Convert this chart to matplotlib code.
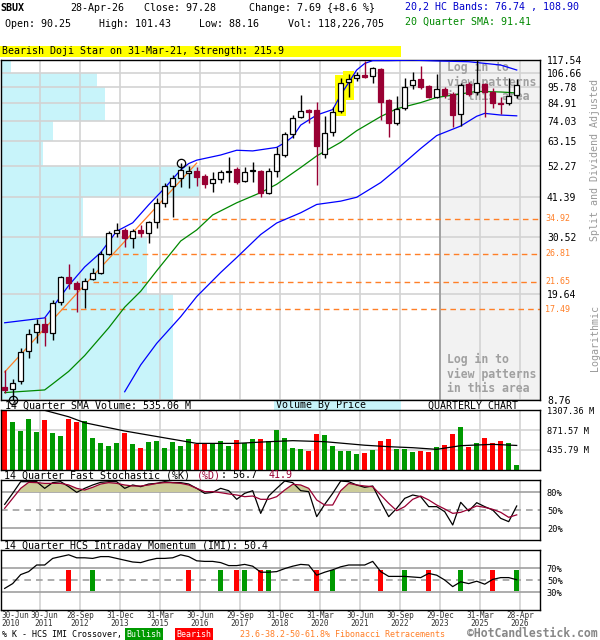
import matplotlib
matplotlib.use('Agg')
import matplotlib.pyplot as plt
import numpy as np
from matplotlib.ticker import NullLocator
from matplotlib.patches import Rectangle
import matplotlib.transforms as mtransforms

plt.rcParams['font.family'] = ['DejaVu Sans Mono']

# ---- quarterly OHLC (split and dividend adjusted), Jun-2010 .. Apr-2026 ----
opens = [9.68, 9.53, 10.13, 12.74, 14.73, 15.66, 14.62, 18.52, 22.42, 21.42,
         20.46, 22.08, 23.11, 26.71, 31.36, 32.09, 30.19, 32.09, 31.36, 34.11,
         39.44, 44.91, 47.73, 49.59, 50.36, 48.47, 45.95, 47.37, 49.98, 51.13,
         46.66, 50.36, 50.36, 42.57, 50.36, 56.90, 66.80, 76.05, 80.23, 80.23,
         57.34, 67.83, 79.62, 99.36, 102.46, 104.82, 104.03, 109.73, 86.60, 72.65,
         81.46, 97.11, 101.67, 96.37, 88.60, 94.18, 90.66, 77.82, 97.86, 92.05,
         97.86, 92.05, 84.65, 84.65, 90.25]
highs = [11.02, 10.29, 13.04, 15.07, 16.27, 16.51, 18.81, 22.59, 24.76, 21.74,
         22.25, 24.01, 27.34, 31.85, 33.85, 32.58, 32.34, 33.34, 34.37, 40.97,
         45.95, 48.84, 53.50, 52.32, 51.92, 49.21, 49.98, 50.74, 56.04, 51.92,
         51.92, 53.94, 50.74, 51.53, 60.48, 67.83, 77.23, 89.97, 80.84, 85.29,
         76.64, 82.10, 102.46, 105.62, 107.25, 116.65, 111.40, 110.59, 87.26, 89.29,
         102.46, 107.25, 112.30, 97.11, 105.62, 95.63, 92.05, 98.60, 99.36, 117.50,
         98.60, 94.91, 88.60, 102.46, 101.43]
lows = [9.25, 8.76, 9.91, 12.08, 13.55, 13.24, 13.86, 18.10, 20.46, 17.16,
        17.69, 21.91, 22.94, 26.51, 30.42, 28.19, 27.98, 30.42, 29.06, 32.58,
        38.26, 35.44, 44.57, 44.23, 44.91, 44.23, 42.90, 45.95, 46.30, 45.60,
        46.30, 46.30, 41.29, 42.25, 48.10, 56.04, 64.79, 75.48, 72.65, 45.25,
        55.63, 65.78, 78.41, 88.60, 100.12, 102.46, 98.60, 74.33, 65.29, 71.55,
        80.23, 94.18, 94.18, 87.93, 87.93, 87.93, 70.47, 71.01, 89.29, 89.97,
        76.05, 81.46, 77.82, 83.36, 88.16]
closes = [9.46, 9.98, 12.65, 14.51, 15.66, 14.73, 18.38, 22.42, 21.42, 20.46,
          21.74, 23.11, 26.71, 31.36, 32.09, 30.19, 31.85, 31.36, 34.11, 39.44,
          44.91, 47.73, 50.74, 50.36, 48.10, 45.60, 47.37, 49.98, 50.36, 46.30,
          49.98, 50.74, 42.57, 50.36, 57.34, 66.80, 75.48, 79.62, 79.01, 60.84,
          67.31, 79.01, 98.60, 101.67, 104.82, 103.25, 110.59, 85.29, 72.65, 80.84,
          95.63, 100.89, 95.63, 88.60, 94.18, 89.97, 77.23, 97.11, 90.66, 98.60,
          92.05, 84.65, 84.30, 89.59, 97.28]
volumes = [1307, 1053, 857, 1111, 835, 1089, 813, 740, 1111, 1053,
           1075, 704, 595, 530, 595, 813, 566, 486, 617, 639,
           486, 617, 530, 682, 573, 573, 573, 639, 530, 661,
           588, 682, 682, 639, 879, 704, 486, 464, 421, 784,
           769, 530, 421, 421, 355, 377, 442, 639, 682, 464,
           464, 399, 421, 399, 501, 551, 784, 937, 508, 595,
           704, 595, 639, 595, 118.2]

# overlays (quarter index, value)
sma_idx = [0, 5, 6, 8, 10, 13, 15, 17, 19, 22, 24, 26, 29, 32, 34, 37, 39, 42, 44, 47, 49, 52, 54, 57, 59, 62, 64]
sma_val = [9.27, 9.46, 9.91, 10.9, 12.3, 15.2, 17.8, 20.1, 23.5, 29.5, 32.1, 36.0, 39.5, 42.7, 45.5, 51.7, 56.5,
           62.7, 68.5, 76.3, 81.0, 84.9, 88.3, 90.7, 92.5, 92.05, 91.41]
upper_idx = [0, 5, 6, 8, 10, 12, 14, 16, 18, 20, 22, 23, 24, 27, 29, 31, 34, 35, 36, 37, 39, 41, 42, 43, 44, 45,
             46, 48, 51, 54, 58, 62, 64]
upper_val = [15.8, 16.4, 17.8, 21.0, 24.2, 27.0, 31.8, 33.9, 38.9, 44.2, 50.8, 53.3, 54.7, 56.9, 59.0, 58.7, 60.3,
             62.5, 65.4, 71.5, 77.2, 80.5, 90.0, 99.0, 108.9, 114.5, 117.0, 117.0, 117.4, 116.7, 116.0, 113.1, 108.9]
lower_idx = [15, 17, 19, 22, 24, 27, 29, 32, 34, 37, 39, 42, 44, 47, 49, 52, 54, 57, 59, 60, 62, 64]
lower_val = [9.33, 11.45, 13.5, 16.55, 19.3, 23.2, 26.0, 31.0, 33.85, 36.6, 39.0, 40.0, 41.2, 46.1, 51.0, 59.8,
             66.0, 71.0, 76.5, 78.2, 77.2, 76.74]
vol_sma_idx = [5, 8, 10, 15, 20, 24, 29, 33, 36, 40, 45, 48, 51, 54, 57, 61, 64]
vol_sma_val = [1300, 1160, 1030, 850, 700, 580, 580, 617, 639, 617, 540, 508, 486, 450, 530, 559, 535.06]

price_ticks = [117.54, 106.66, 95.78, 84.91, 74.03, 63.15, 52.27, 41.39, 30.52, 19.64, 8.76]
vbp = [5, 48, 52, 52, 26, 21, 100, 41, 73, 86]   # volume by price, % of max, top row first
fib_levels = [34.92, 26.81, 21.65, 17.49]
fib_start = [18.5, 13.5, 11, 7]
trend_idx = [0, 24]
trend_val = [10.85, 53.5]
pattern_idx = [42, 43]

stoch_k = [59.4, 77.8, 97.2, 97.2, 97.2, 86.1, 95.6, 97.2, 88.9, 79.4, 86.1, 91.7, 96.1, 97.2, 97.2, 86.1, 91.7,
           88.9, 93.3, 94.4, 97.2, 95.6, 95.6, 93.3, 86.1, 77.8, 79.4, 86.1, 82.2, 67.8, 77.8, 82.2, 44.4, 73.3,
           86.1, 98.3, 95.6, 82.2, 80.6, 38.9, 59.4, 77.8, 98.3, 97.2, 91.7, 87.8, 90.0, 63.9, 38.9, 52.8, 69.4,
           75.0, 72.2, 55.6, 55.6, 47.2, 25.0, 62.8, 48.3, 62.2, 55.6, 50.0, 36.1, 30.6, 56.7]
stoch_d = [52.8, 69.4, 86.1, 96.1, 95.6, 94.4, 94.4, 94.4, 91.7, 86.1, 83.3, 87.8, 93.3, 95.6, 94.4, 91.7, 90.0,
           90.0, 91.7, 94.4, 95.6, 95.6, 94.4, 91.7, 86.1, 80.6, 80.6, 78.9, 76.7, 75.0, 72.2, 73.3, 67.8, 67.8,
           72.2, 83.3, 92.8, 91.7, 86.1, 66.7, 58.3, 58.3, 82.2, 94.4, 91.7, 90.0, 88.9, 75.0, 61.1, 48.9, 55.6,
           67.8, 73.3, 66.7, 58.3, 51.7, 44.4, 46.1, 51.1, 56.7, 54.4, 51.1, 46.1, 37.8, 41.9]
imi = [36, 44, 59, 64, 75, 75, 86, 89, 92, 87, 87, 86, 89, 89, 86, 83, 80, 79, 83, 86, 86, 87, 92, 89, 82, 81,
       81, 79, 74, 74, 76, 73, 63, 63, 64, 69, 73, 76, 75, 58, 63, 67, 72, 75, 75, 75, 81, 64, 56, 56, 56, 55,
       54, 61, 58, 50, 39, 47, 44, 48, 43, 51, 54, 54, 50.4]
bull_idx = [11, 27, 30, 33, 41, 50, 57, 64]
bear_idx = [8, 23, 29, 32, 39, 47, 53, 61]

date_idx = [0, 4, 9, 14, 19, 24, 29, 34, 39, 44, 49, 54, 59, 64]
date_labels = ['30-Jun\n2010', '30-Jun\n2011', '28-Sep\n2012', '31-Dec\n2013', '31-Mar\n2015', '30-Jun\n2016',
               '29-Sep\n2017', '31-Dec\n2018', '31-Mar\n2020', '30-Jun\n2021', '30-Sep\n2022', '29-Dec\n2023',
               '31-Mar\n2025', '28-Apr\n2026']

# ---- colours ----
RED = '#990033'
VRED = '#ff0000'
VGREEN = '#009900'
BLUE = '#0000ff'
GREEN = '#008800'
ORANGE = '#ff7f27'
GRID = '#d3d3d3'
CYAN = '#c8f4fa'

W, H = 600, 640
fig = plt.figure(figsize=(W / 100, H / 100), dpi=100)

def panel(x0, y0, x1, y1):
    return fig.add_axes([x0 / W, 1 - y1 / H, (x1 - x0) / W, (y1 - y0) / H])

def ftext(x, y, s, **kw):
    kw.setdefault('fontsize', 7.2)
    kw.setdefault('va', 'center')
    fig.text(x / W, 1 - y / H, s, **kw)

idx = np.arange(len(closes))
o, h, l, c = map(np.array, (opens, highs, lows, closes))
up = c >= o
XMIN, XMAX = -0.46, 66.91
grid_x = [d + 0.4 for d in date_idx[1:]]

def style(ax):
    ax.set_xlim(XMIN, XMAX)
    ax.set_xticks([])
    for s in ax.spines.values():
        s.set_color('black')
        s.set_linewidth(1)
    ax.yaxis.tick_right()
    ax.tick_params(axis='y', length=0, pad=5, labelsize=6.3)
    for gx in grid_x:
        ax.axvline(gx, color=GRID, lw=1.2, zorder=1)

# ---- price panel (volume-by-price bars sit in an axes underneath) ----
vax = panel(1, 60, 540, 400)
ax = fig.add_axes(vax.get_position())
vax.set_yscale('log')
vax.set_ylim(8.76, 117.54)
vax.yaxis.set_major_locator(NullLocator())
vax.yaxis.set_minor_locator(NullLocator())
vax.set_xlim(0, 100 / 0.37)
vax.set_xticks([])
for s in vax.spines.values():
    s.set_visible(False)
vax.barh(price_ticks[1:], vbp, height=np.diff(price_ticks[::-1])[::-1], align='edge',
         color=CYAN, lw=0)

ax.patch.set_visible(False)
ax.set_yscale('log')
ax.set_ylim(8.76, 117.54)
style(ax)
ax.yaxis.set_minor_locator(NullLocator())
ax.set_yticks(price_ticks)
ax.set_yticklabels([f'{t:.2f}' for t in price_ticks], fontsize=7)
ax.axvspan(54.4, XMAX, color='#f2f2f2', zorder=0.5)
ax.axvline(54.4, color='#999999', lw=1.2, zorder=1.2)
for t in price_ticks:
    ax.axhline(t, color=GRID, lw=1.2, zorder=1)

for k, lvl in enumerate(fib_levels):
    ax.hlines(lvl, fib_start[k], XMAX, colors=ORANGE, lw=1, linestyles=(0, (4, 3)), zorder=2)
    ax.text(1.01, lvl, f'{lvl:.2f}', color=ORANGE, fontsize=6, va='center',
            transform=mtransforms.blended_transform_factory(ax.transAxes, ax.transData))

txt = dict(color='#a0a0a0', fontsize=8.3, fontweight='bold', transform=ax.transAxes, va='center', zorder=1.5)
for k, line in enumerate(['Log in to', 'view patterns', 'in this area']):
    ax.text((447 - 1) / 539, (400 - (67 + 15 * k)) / 340, line, **txt)
    ax.text((447 - 1) / 539, (400 - (359 + 15 * k)) / 340, line, **txt)

for i in pattern_idx:
    ax.add_patch(Rectangle((i - 0.7, l[i] * 0.975), 1.4, h[i] * 1.025 - l[i] * 0.975,
                           color='#ffff00', lw=0, zorder=2))

ax.plot(trend_idx, trend_val, color=ORANGE, lw=0.9, zorder=3)
ax.plot(sma_idx, sma_val, color=GREEN, lw=0.9, zorder=3)
ax.plot(upper_idx, upper_val, color=BLUE, lw=0.9, zorder=3)
ax.plot(lower_idx, lower_val, color=BLUE, lw=0.9, zorder=3)

ax.vlines(idx, l, h, colors=np.where(up, 'black', RED), lw=1, zorder=4)
lo = np.minimum(o, c)
hi = np.maximum(o, c)
ax.bar(idx, hi - lo, bottom=lo, width=0.62, color=np.where(up, 'white', RED),
       edgecolor=np.where(up, 'black', RED), lw=0.9, zorder=5)

ax.plot(22, h[22], marker='o', ms=6, mfc='none', mec='black', mew=0.9, zorder=6)
ax.plot(1, l[1], marker='o', ms=6, mfc='none', mec='black', mew=0.9, zorder=6, clip_on=False)

# ---- volume panel ----
bx = panel(1, 410, 540, 470)
style(bx)
bx.set_ylim(0, 1307.36)
bx.set_yticks([1307.36, 871.57, 435.79])
bx.set_yticklabels(['1307.36 M', '871.57 M', '435.79 M'], fontsize=6.2)
for t in [435.79, 871.57]:
    bx.axhline(t, color=GRID, lw=1.2, zorder=1)
bx.bar(idx, volumes, width=0.65, color=np.where(up, VGREEN, VRED), zorder=2)
bx.plot(vol_sma_idx, vol_sma_val, color='black', lw=0.9, zorder=3)

# ---- stochastic panel ----
sx = panel(1, 480, 540, 540)
style(sx)
sx.set_ylim(0, 100)
sx.set_yticks([80, 50, 20])
sx.set_yticklabels(['80%', '50%', '20%'], fontsize=6.2)
sx.axhline(80, color='#a0a0a0', lw=1.2, zorder=1)
sx.axhline(20, color='#a0a0a0', lw=1.2, zorder=1)
sx.axhline(50, color='#a0a0a0', lw=1.2, ls=(0, (4, 3)), zorder=1)
dd = np.array(stoch_d)
sx.fill_between(idx, dd, 80, where=dd > 80, interpolate=True, color='#cccc99', lw=0, zorder=2)
sx.plot(idx, stoch_k, color='black', lw=0.9, zorder=3)
sx.plot(idx, stoch_d, color=RED, lw=0.9, zorder=3)

# ---- IMI panel ----
ix = panel(1, 550, 540, 610)
style(ix)
ix.set_ylim(0, 100)
ix.set_yticks([70, 50, 30])
ix.set_yticklabels(['70%', '50%', '30%'], fontsize=6.2)
ix.axhline(70, color='#a0a0a0', lw=1.2, zorder=1)
ix.axhline(30, color='#a0a0a0', lw=1.2, zorder=1)
ix.axhline(50, color='#a0a0a0', lw=1.2, ls=(0, (4, 3)), zorder=1)
ix.bar(bull_idx, 35, bottom=32, width=0.65, color=VGREEN, zorder=2)
ix.bar(bear_idx, 35, bottom=32, width=0.65, color=VRED, zorder=2)
ix.plot(idx, imi, color='black', lw=0.9, zorder=3)

date_tf = mtransforms.blended_transform_factory(ix.transData, ix.transAxes)
for k, (d, lab) in enumerate(zip(date_idx, date_labels)):
    if k == 0:
        xpos, ha = XMIN, 'left'
    elif k == 1:
        xpos, ha = d + 0.9, 'center'
    else:
        xpos, ha = d + 0.4, 'center'
    ix.text(xpos, -0.01, lab, ha=ha, va='top', fontsize=5.6, linespacing=0.95,
            color='#333333', transform=date_tf)

# ---- header and captions ----
ftext(0, 8, 'SBUX', fontweight='bold')
ftext(70, 8, '28-Apr-26')
ftext(144, 8, 'Close: 97.28')
ftext(249, 8, 'Change: 7.69 {+8.6 %}')
ftext(5, 24, 'Open: 90.25')
ftext(99, 24, 'High: 101.43')
ftext(199, 24, 'Low: 88.16')
ftext(288, 24, 'Vol: 118,226,705')
ftext(405, 7, '20,2 HC Bands: 76.74 , 108.90', color='#0000cc')
ftext(405, 22, '20 Quarter SMA: 91.41', color='#008800')
fig.patches.append(Rectangle((0, 1 - 57 / H), 401 / W, 11 / H, transform=fig.transFigure,
                             fc='#ffff00', ec='none', zorder=-1))
ftext(2, 51.5, 'Bearish Doji Star on 31-Mar-21, Strength: 215.9')

ftext(595, 160, 'Split and Dividend Adjusted', rotation=90, ha='center', color='#999999')
ftext(595, 338, 'Logarithmic', rotation=90, ha='center', color='#999999')

fig.patches.append(Rectangle((274 / W, 1 - 410 / H), 127 / W, 10 / H, transform=fig.transFigure,
                             fc=CYAN, ec='none', zorder=-1))
ftext(5, 405.5, '14 Quarter SMA Volume: 535.06 M')
ftext(276, 405.5, 'Volume By Price')
ftext(518, 405.5, 'QUARTERLY CHART', ha='right')

ftext(4, 475, '14 Quarter Fast Stochastic (%K) ')
ftext(4 + 32 * 6.02, 475, '(%D)', color=RED)
ftext(4 + 36 * 6.02, 475, ': 56.7')
ftext(4 + 44 * 6.02, 475, '41.9', color=RED)
ftext(4, 546, '14 Quarter HCS Intraday Momentum (IMI): 50.4')

ftext(2, 634.5, '% K - HCS IMI Crossover,', fontsize=6)
ftext(144, 634.5, 'Bullish', fontsize=6, ha='center', color='white',
      bbox=dict(boxstyle='square,pad=0.2', fc=VGREEN, ec='none'))
ftext(194, 634.5, 'Bearish', fontsize=6, ha='center', color='white',
      bbox=dict(boxstyle='square,pad=0.2', fc=VRED, ec='none'))
ftext(240, 634.5, '23.6-38.2-50-61.8% Fibonacci Retracements', fontsize=6, color=ORANGE)
ftext(598, 633.5, '\u00a9HotCandlestick.com', fontsize=8.3, fontweight='bold', color='#888888', ha='right')

fig.savefig('out.png', dpi=100)
